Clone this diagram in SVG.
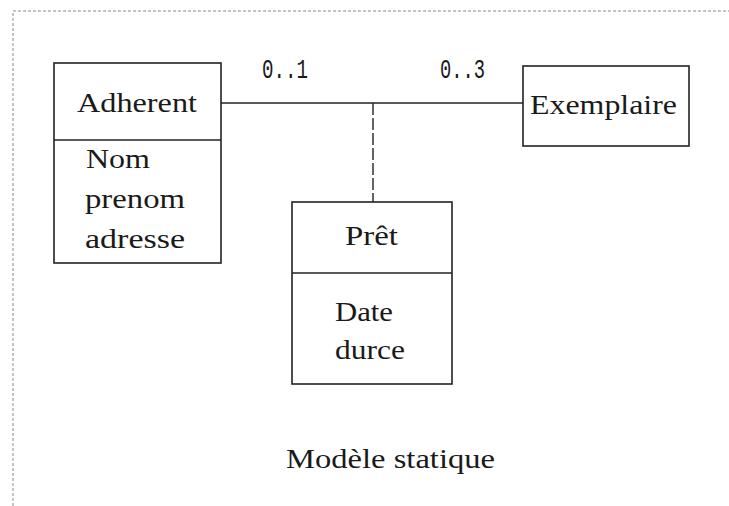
<svg xmlns="http://www.w3.org/2000/svg" width="729" height="506" viewBox="0 0 729 506">
<style>
.box{fill:#fff;stroke:#222;stroke-width:1.6}
.div{stroke:#222;stroke-width:1.6}
.t{font-family:"Liberation Serif","DejaVu Serif",serif;font-size:27px;fill:#1a1a1a}
.m{font-family:"Liberation Mono","DejaVu Sans Mono",monospace;font-size:28px;fill:#1a1a1a}
.frame{stroke:#888;stroke-width:1;stroke-dasharray:3 2;fill:none}
</style>
<rect width="729" height="506" fill="#fff"/>
<path class="frame" d="M13 506 V11 H729"/>
<g id="connectors">
<line x1="221" y1="103" x2="523" y2="103" stroke="#222" stroke-width="1.6"/>
<line x1="373" y1="103" x2="373" y2="202" stroke="#222" stroke-width="1.4" stroke-dasharray="12 3"/>
<text class="m" x="262" y="78" textLength="46" lengthAdjust="spacingAndGlyphs">0..1</text>
<text class="m" x="440" y="78" textLength="45" lengthAdjust="spacingAndGlyphs">0..3</text>
</g>
<g id="adherent">
<rect class="box" x="54" y="63" width="167" height="200"/>
<line class="div" x1="54" y1="140" x2="221" y2="140"/>
<text class="t" x="77" y="112" textLength="120" lengthAdjust="spacingAndGlyphs">Adherent</text>
<text class="t" x="86" y="168" textLength="64" lengthAdjust="spacingAndGlyphs">Nom</text>
<text class="t" x="85" y="208" textLength="100" lengthAdjust="spacingAndGlyphs">prenom</text>
<text class="t" x="85" y="248" textLength="100" lengthAdjust="spacingAndGlyphs">adresse</text>
</g>
<g id="exemplaire">
<rect class="box" x="523" y="66" width="166" height="80"/>
<text class="t" x="530" y="114" textLength="147" lengthAdjust="spacingAndGlyphs">Exemplaire</text>
</g>
<g id="pret">
<rect class="box" x="292" y="202" width="160" height="182"/>
<line class="div" x1="292" y1="273" x2="452" y2="273"/>
<text class="t" x="345" y="245" textLength="53" lengthAdjust="spacingAndGlyphs">Prêt</text>
<text class="t" x="335" y="321" textLength="58" lengthAdjust="spacingAndGlyphs">Date</text>
<text class="t" x="335" y="359" textLength="70" lengthAdjust="spacingAndGlyphs">durce</text>
</g>
<text class="t" x="286" y="468" textLength="209" lengthAdjust="spacingAndGlyphs">Modèle statique</text>
</svg>
